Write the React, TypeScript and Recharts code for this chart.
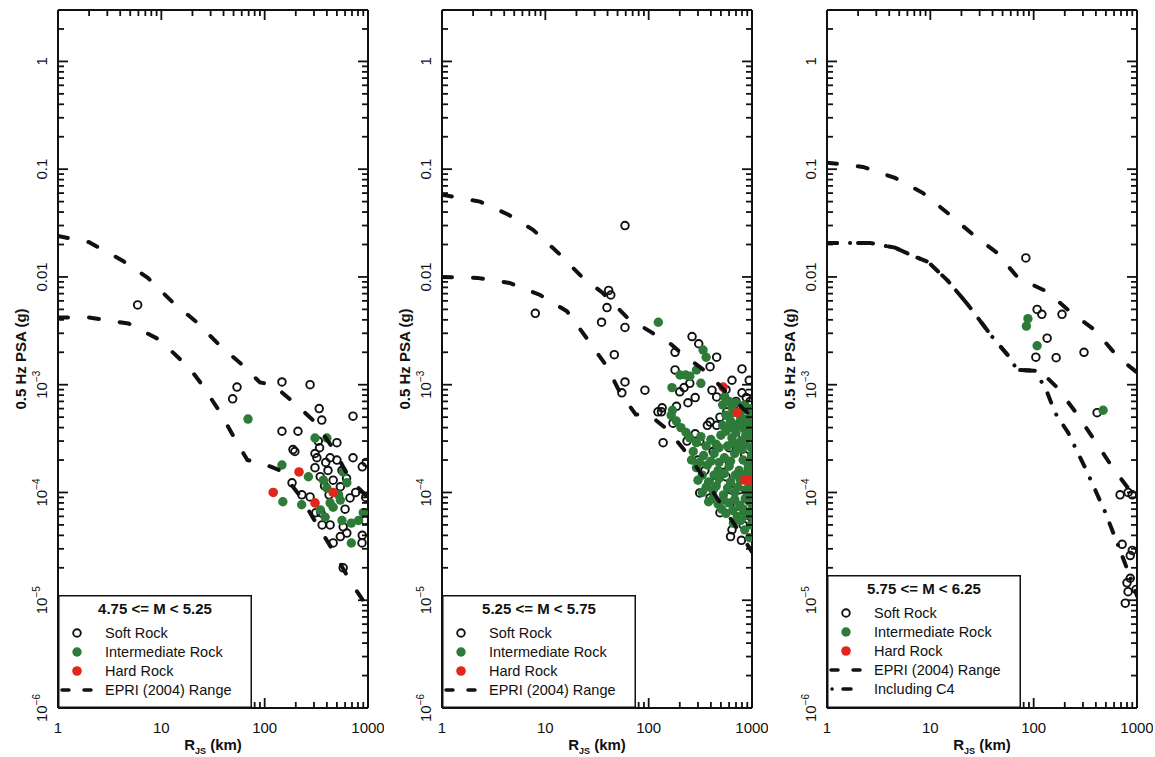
import React from 'react';
import { ScatterChart, Scatter, XAxis, YAxis, Legend } from 'recharts';

type Pt = [number, number];

const INK = '#111111';
const GREEN = '#2e7b39';
const RED = '#e3261b';
const FONT = '"Liberation Sans", Arial, Helvetica, sans-serif';

// ---------- tick labels ----------
const xDecades = [1, 10, 100, 1000];
const xDecadeLabels = ['1', '10', '100', '1000'];
const yDecades = [1e-6, 1e-5, 1e-4, 1e-3, 0.01, 0.1, 1];
const yDecadeBase = ['10', '10', '10', '10', '0.01', '0.1', '1'];
const yDecadeSup = ['\u22126', '\u22125', '\u22124', '\u22123', '', '', ''];
const minorMultipliers = [2, 3, 4, 5, 6, 7, 8, 9];
const yTopExtra = [2];

const xTicks: number[] = [];
xDecades.forEach((d, i) => {
  xTicks.push(d);
  if (i < xDecades.length - 1) minorMultipliers.forEach((m) => xTicks.push(m * d));
});
const yTicks: number[] = [];
yDecades.forEach((d, i) => {
  yTicks.push(d);
  if (i < yDecades.length - 1) minorMultipliers.forEach((m) => yTicks.push(m * d));
});
yTopExtra.forEach((v) => yTicks.push(v));

// ---------- panel 1 : 4.75 <= M < 5.25 ----------
const p1Soft: Pt[] = [
  [5.9, 5.5e-3], [54, 9.5e-4], [49, 7.4e-4], [147, 1.06e-3], [275, 1.0e-3], [337, 6.0e-4],
  [357, 4.7e-4], [716, 5.1e-4], [147, 3.7e-4], [210, 3.7e-4], [188, 2.5e-4], [196, 2.4e-4],
  [307, 2.3e-4], [500, 2.9e-4], [184, 1.23e-4], [229, 9.5e-5], [275, 9.1e-5], [313, 6.5e-5],
  [575, 4.8e-5], [624, 4.2e-5], [875, 3.4e-5], [575, 2.0e-5], [716, 2.1e-4], [880, 1.73e-4],
  [670, 8.9e-5], [880, 4.0e-5], [500, 2.0e-4], [410, 1.6e-4], [345, 1.4e-4], [460, 1.3e-4],
  [540, 1.13e-4], [360, 5.0e-5], [430, 5.0e-5], [460, 3.4e-5], [540, 3.9e-5], [320, 2.1e-4],
  [307, 1.7e-4], [430, 2.1e-4], [390, 1.9e-4], [560, 1.6e-4], [620, 1.35e-4], [380, 1.15e-4],
  [420, 9.5e-5], [600, 7.0e-5], [350, 6.5e-5], [760, 1.0e-4], [960, 1.9e-4], [950, 9.0e-5],
  [940, 5.5e-5], [330, 3.0e-4], [340, 2.6e-4],
];
const p1Inter: Pt[] = [
  [69, 4.8e-4], [147, 1.8e-4], [150, 8.2e-5], [265, 1.4e-4], [228, 7.7e-5], [307, 3.2e-4],
  [400, 3.2e-4], [575, 1.55e-4], [624, 1.23e-4], [400, 1.1e-4], [460, 7.3e-5], [385, 5.9e-5],
  [560, 5.5e-5], [690, 3.4e-5], [810, 5.5e-5], [540, 8.5e-5], [345, 6.9e-5], [690, 5.2e-5],
  [370, 1.3e-4], [520, 9.5e-5], [900, 6.5e-5], [430, 8.0e-5],
];
const p1Hard: Pt[] = [[121, 1.0e-4], [215, 1.55e-4], [307, 8.0e-5], [460, 1.0e-4]];
const p1Upper: Pt[] = [
  [1, 0.024], [2, 0.021], [4.3, 0.014], [7.4, 0.0098], [12.7, 0.0059], [22, 0.0038], [37, 0.0023],
  [62, 0.0015], [90, 0.00105], [120, 0.001], [193, 0.00068], [307, 0.00045], [468, 0.00025],
  [675, 0.00013], [1000, 0.00009],
];
const p1Lower: Pt[] = [
  [1, 0.0042], [2, 0.0042], [4.8, 0.0037], [9.7, 0.0026], [19, 0.0014], [24, 0.00104], [36, 0.00058],
  [51, 0.00032], [68, 0.0002], [90, 0.00019], [141, 0.00016], [220, 9.3e-5], [294, 5.8e-5],
  [458, 2.9e-5], [671, 1.5e-5], [1000, 8.5e-6],
];

// ---------- panel 2 : 5.25 <= M < 5.75 ----------
const p2Soft: Pt[] = [
  [59, 0.03], [8, 0.0046], [35, 0.0038], [39.5, 0.0052], [41, 0.0075], [43, 0.0068], [59, 0.0034],
  [46.5, 0.0019], [180, 0.002], [180, 0.00137], [263, 0.0028], [305, 0.0024], [455, 0.0018],
  [800, 0.0014], [59, 0.00106], [55, 0.00084], [92, 0.00089], [200, 0.00086], [220, 0.00094],
  [250, 0.00103], [393, 0.00147], [410, 0.00089], [455, 0.00077], [640, 0.0011], [800, 0.00084],
  [880, 0.00076], [240, 0.00068], [282, 0.00076], [186, 0.00063], [135, 0.00061], [123, 0.00056],
  [133, 0.00056], [172, 0.00044], [138, 0.00029], [235, 0.0003], [282, 0.00035], [312, 0.0003],
  [393, 0.00045], [455, 0.00042], [370, 0.00042], [490, 0.0005], [570, 0.00056], [660, 0.0006],
  [312, 9.9e-5], [393, 8.9e-5], [490, 6.5e-5], [640, 4.5e-5], [800, 5.9e-5], [820, 5.0e-5],
  [620, 3.9e-5], [620, 1.06e-4], [760, 1.06e-4], [880, 8.7e-5], [300, 2.0e-4], [350, 1.6e-4],
  [420, 2.4e-4], [520, 1.8e-4], [600, 2.6e-4], [700, 3.2e-4], [850, 2.2e-4], [950, 3.5e-4],
  [900, 1.5e-4], [450, 1.25e-4], [560, 1.4e-4], [720, 7.5e-5], [960, 6.0e-5], [940, 1.1e-3],
  [960, 7.0e-4], [700, 7.0e-4], [560, 9.0e-4], [790, 3.6e-5],
];
const p2Inter: Pt[] = [
  [124, 0.0038], [336, 0.0021], [360, 0.0018], [201, 0.00123], [228, 0.00123], [250, 0.0012],
  [290, 0.00137], [168, 0.00094], [320, 0.00103], [545, 0.00077],
  [520, 6.5e-4], [600, 7.0e-4], [700, 6.8e-4], [850, 6.5e-4], [950, 6.0e-4], [560, 5.2e-4],
  [650, 5.5e-4], [780, 5.0e-4], [900, 4.8e-4], [980, 4.5e-4], [520, 4.2e-4], [620, 4.0e-4],
  [720, 4.2e-4], [840, 3.9e-4], [960, 3.7e-4],
  [165, 5.2e-4], [185, 4.6e-4], [205, 4.0e-4], [230, 3.6e-4], [170, 5.8e-4],
  [250, 3.2e-4], [320, 3.3e-4], [400, 3.1e-4], [500, 3.4e-4], [640, 3.2e-4], [780, 3.0e-4], [930, 3.3e-4],
  [270, 2.4e-4], [340, 2.2e-4], [430, 2.3e-4], [540, 2.1e-4], [680, 2.3e-4], [820, 2.0e-4], [990, 2.2e-4],
  [290, 1.7e-4], [370, 1.8e-4], [470, 1.6e-4], [600, 1.75e-4], [750, 1.6e-4], [920, 1.7e-4],
  [300, 1.3e-4], [380, 1.25e-4], [480, 1.35e-4], [620, 1.25e-4], [770, 1.3e-4], [960, 1.2e-4],
  [330, 1.0e-4], [420, 1.05e-4], [530, 9.5e-5], [680, 1.0e-4], [860, 1.05e-4], [1000, 9.5e-5],
  [380, 8.2e-5], [470, 7.8e-5], [600, 8.0e-5], [760, 7.6e-5], [940, 8.2e-5],
  [560, 6.4e-5], [720, 6.0e-5], [880, 6.2e-5], [980, 5.0e-5], [850, 4.5e-5], [950, 3.8e-5],
  [450, 2.8e-4], [580, 2.7e-4], [720, 2.6e-4], [870, 2.8e-4], [360, 2.7e-4], [290, 2.9e-4],
  [260, 2.0e-4], [310, 1.9e-4], [400, 1.95e-4], [480, 1.9e-4], [620, 1.95e-4], [900, 1.9e-4],
  [330, 1.45e-4], [430, 1.45e-4], [540, 1.5e-4], [690, 1.45e-4], [850, 1.45e-4], [1000, 1.5e-4],
  [360, 1.12e-4], [450, 1.15e-4], [580, 1.1e-4], [730, 1.12e-4], [920, 1.1e-4],
  [420, 8.8e-5], [530, 8.5e-5], [680, 8.6e-5], [860, 8.8e-5],
  [510, 7.0e-5], [650, 6.8e-5], [820, 7.0e-5], [1000, 7.0e-5], [660, 5.2e-5], [780, 5.5e-5], [1000, 6.0e-5],
  [480, 2.6e-4], [650, 2.9e-4], [800, 2.5e-4], [980, 2.6e-4], [560, 3.7e-4], [700, 3.6e-4],
  [870, 3.4e-4], [1000, 3.2e-4], [620, 4.6e-4], [760, 4.5e-4], [900, 4.2e-4], [1000, 5.5e-4],
  [640, 6.2e-4], [800, 5.8e-4],
];
const p2Hard: Pt[] = [[525, 9.5e-4], [718, 5.5e-4], [850, 1.3e-4], [950, 1.3e-4]];
const p2Upper: Pt[] = [
  [1, 0.058], [2.33, 0.05], [4.35, 0.038], [7.6, 0.0274], [13.9, 0.0161], [22.6, 0.01], [36, 0.0071],
  [62, 0.0042], [110, 0.003], [135, 0.0028], [215, 0.0019], [367, 0.0013], [600, 0.0008], [1000, 0.0005],
];
const p2Lower: Pt[] = [
  [1, 0.01], [2.2, 0.0098], [4.5, 0.0088], [8.9, 0.0068], [16.2, 0.0048], [25.9, 0.0026],
  [39.5, 0.00147], [53, 0.00084], [75, 0.00053], [100, 0.00053], [154, 0.00038], [235, 0.00023],
  [336, 0.00014], [525, 7.3e-5], [767, 4.2e-5], [1000, 2.8e-5],
];

// ---------- panel 3 : 5.75 <= M < 6.25 ----------
const p3Soft: Pt[] = [
  [84, 0.015], [108, 0.005], [120, 0.0045], [188, 0.0045], [135, 0.0027], [105, 0.0018],
  [165, 0.00178], [307, 0.002], [411, 5.5e-4], [686, 9.5e-5], [820, 1.0e-4], [900, 9.5e-5],
  [718, 3.3e-5], [900, 2.9e-5], [860, 2.6e-5], [800, 1.45e-5], [980, 1.26e-5], [770, 9.4e-6],
  [820, 1.2e-5], [860, 1.6e-5],
];
const p3Inter: Pt[] = [[88, 0.0041], [85, 0.0035], [108, 0.0023], [470, 5.8e-4]];
const p3Hard: Pt[] = [];
const p3Upper: Pt[] = [
  [1, 0.115], [2.23, 0.105], [4.55, 0.083], [8.5, 0.06], [14.8, 0.039], [25.9, 0.0247], [44, 0.0168],
  [70.6, 0.0098], [135, 0.0073], [235, 0.0046], [393, 0.0032], [656, 0.0018], [1000, 0.0013],
];
const p3LowerHead: Pt[] = [
  [1, 0.0207], [2.6, 0.0207], [4.55, 0.0187], [7.1, 0.0154], [9.5, 0.0138], [14.8, 0.0092],
  [23.2, 0.0055], [39.5, 0.0028], [59, 0.00178], [69, 0.00137], [103, 0.00135],
];
const p3LowerTail: Pt[] = [
  [130, 0.0012], [169, 0.00094], [257, 0.00055], [393, 0.0003], [574, 0.000173], [917, 0.000095], [1000, 0.000085],
];
const p3C4Tail: Pt[] = [
  [132, 0.0009], [161, 0.00055], [215, 0.00036], [329, 0.000155], [491, 6.6e-5], [686, 2.9e-5],
  [955, 1.26e-5], [1000, 1.1e-5],
];

// ---------- helpers ----------
const toPts = (a: Pt[]) => a.map(([x, y]) => ({ x, y }));
const findIdx = (arr: number[], v: number) => arr.findIndex((d) => Math.abs(d - v) / d < 1e-6);

const MAJOR = 10;
const MINOR = 6;
const TICK_W = 1.8;

const BottomTick = (p: any) => {
  const v = p.payload.value;
  const i = findIdx(xDecades, v);
  const len = i >= 0 ? MAJOR : MINOR;
  return (
    <g>
      <line x1={p.x} x2={p.x} y1={p.y} y2={p.y - len} stroke={INK} strokeWidth={TICK_W} />
      {i >= 0 && (
        <text x={p.x} y={p.y + 25} textAnchor="middle" fontSize={15} fontFamily={FONT} fill={INK}>
          {xDecadeLabels[i]}
        </text>
      )}
    </g>
  );
};
const TopTick = (p: any) => {
  const v = p.payload.value;
  const len = findIdx(xDecades, v) >= 0 ? MAJOR : MINOR;
  return <line x1={p.x} x2={p.x} y1={p.y} y2={p.y + len} stroke={INK} strokeWidth={TICK_W} />;
};
const LeftTick = (p: any) => {
  const v = p.payload.value;
  const i = findIdx(yDecades, v);
  const len = i >= 0 ? MAJOR : MINOR;
  const tx = p.x - 11;
  return (
    <g>
      <line x1={p.x} x2={p.x + len} y1={p.y} y2={p.y} stroke={INK} strokeWidth={TICK_W} />
      {i >= 0 && (
        <text
          x={tx}
          y={p.y}
          transform={`rotate(-90 ${tx} ${p.y})`}
          textAnchor="middle"
          fontSize={15}
          fontFamily={FONT}
          fill={INK}
        >
          <tspan>{yDecadeBase[i]}</tspan>
          {yDecadeSup[i] && (
            <tspan dy={-7} fontSize={10}>
              {yDecadeSup[i]}
            </tspan>
          )}
        </text>
      )}
    </g>
  );
};
const RightTick = (p: any) => {
  const v = p.payload.value;
  const len = findIdx(yDecades, v) >= 0 ? MAJOR : MINOR;
  return <line x1={p.x} x2={p.x - len} y1={p.y} y2={p.y} stroke={INK} strokeWidth={TICK_W} />;
};

const XTitle = (props: any) => {
  const vb = props.viewBox || {};
  const cx = vb.x + vb.width / 2;
  const y = vb.y + 42;
  return (
    <text x={cx} y={y} textAnchor="middle" fontSize={15} fontWeight="bold" fontFamily={FONT} fill={INK}>
      <tspan>R</tspan>
      <tspan fontSize={9} dy={4}>JS</tspan>
      <tspan dy={-4}> (km)</tspan>
    </text>
  );
};
const YTitle = (props: any) => {
  const vb = props.viewBox || {};
  const x = vb.x + (vb.width || 0) - 32;
  const y = vb.y + vb.height / 2;
  return (
    <text
      x={x}
      y={y}
      transform={`rotate(-90 ${x} ${y})`}
      textAnchor="middle"
      fontSize={15}
      fontWeight="bold"
      fontFamily={FONT}
      fill={INK}
    >
      0.5 Hz PSA (g)
    </text>
  );
};

const SoftShape = (p: any) => <circle cx={p.cx} cy={p.cy} r={3.8} fill="none" stroke={INK} strokeWidth={1.9} />;
const InterShape = (p: any) => <circle cx={p.cx} cy={p.cy} r={4.7} fill={GREEN} />;
const HardShape = (p: any) => <circle cx={p.cx} cy={p.cy} r={4.8} fill={RED} />;
const NoShape = () => <g />;

const DASH = { stroke: INK, strokeWidth: 4, strokeDasharray: '10 21', strokeLinecap: 'round' as const, fill: 'none' };
const DASHDOT = { stroke: INK, strokeWidth: 4, strokeDasharray: '10 13 0.1 13', strokeLinecap: 'round' as const, fill: 'none' };

type RowKind = 'soft' | 'inter' | 'hard' | 'dash' | 'dashdot';
const legendKinds: RowKind[] = ['soft', 'inter', 'hard', 'dash'];
const legendNames = ['Soft Rock', 'Intermediate Rock', 'Hard Rock', 'EPRI (2004) Range'];
const legendKindsC4: RowKind[] = ['soft', 'inter', 'hard', 'dash', 'dashdot'];
const legendNamesC4 = ['Soft Rock', 'Intermediate Rock', 'Hard Rock', 'EPRI (2004) Range', 'Including C4'];

const LegendBox = ({ title, kinds, names, w, h }: { title: string; kinds: RowKind[]; names: string[]; w: number; h: number }) => {
  const titleY = 19;
  const first = 38;
  const step = 19;
  return (
    <svg width={w} height={h} style={{ display: 'block' }}>
      <rect x={0.75} y={0.75} width={w - 1.5} height={h - 1.5} fill="#ffffff" stroke={INK} strokeWidth={1.5} />
      <text x={w / 2} y={titleY} textAnchor="middle" fontSize={15} fontWeight="bold" fontFamily={FONT} fill={INK}>
        {title}
      </text>
      {kinds.map((k, i) => {
        const cy = first + i * step;
        let mark: React.ReactNode = null;
        if (k === 'soft') mark = <circle cx={19} cy={cy} r={3.8} fill="none" stroke={INK} strokeWidth={1.9} />;
        if (k === 'inter') mark = <circle cx={19} cy={cy} r={4.7} fill={GREEN} />;
        if (k === 'hard') mark = <circle cx={19} cy={cy} r={4.8} fill={RED} />;
        if (k === 'dash')
          mark = (
            <g stroke={INK} strokeWidth={3.5} strokeLinecap="round">
              <line x1={4} x2={11} y1={cy} y2={cy} />
              <line x1={26} x2={33} y1={cy} y2={cy} />
            </g>
          );
        if (k === 'dashdot')
          mark = (
            <g stroke={INK} strokeWidth={3.5} strokeLinecap="round">
              <line x1={5} x2={5.1} y1={cy} y2={cy} />
              <line x1={16} x2={24} y1={cy} y2={cy} />
            </g>
          );
        return (
          <g key={i}>
            {mark}
            <text x={47} y={cy + 5} fontSize={14.5} fontFamily={FONT} fill={INK}>
              {names[i]}
            </text>
          </g>
        );
      })}
    </svg>
  );
};

type PanelProps = {
  left: number;
  title: string;
  soft: Pt[];
  inter: Pt[];
  hard: Pt[];
  dashed: Pt[][];
  dashdot: Pt[][];
  kinds: RowKind[];
  names: string[];
  legendH: number;
};

const CH_W = 384;
const CH_H = 757;
// the axes take 1px each, so the plot box spans x 58..368 and y 10..708 in every chart
const MARGIN = { top: 9, right: 15, bottom: 48, left: 57 };

const Panel = ({ left, title, soft, inter, hard, dashed, dashdot, kinds, names, legendH }: PanelProps) => (
  <div style={{ position: 'absolute', left, top: 0 }}>
    <ScatterChart width={CH_W} height={CH_H} margin={MARGIN}>
      <XAxis
        xAxisId="b"
        dataKey="x"
        type="number"
        scale="log"
        domain={[1, 1000]}
        allowDataOverflow
        ticks={xTicks}
        interval={0}
        tickSize={0}
        tickMargin={0}
        tickLine={false}
        tick={BottomTick}
        height={1}
        axisLine={{ stroke: INK, strokeWidth: 2 }}
        label={XTitle}
      />
      <XAxis
        xAxisId="t"
        orientation="top"
        dataKey="x"
        type="number"
        scale="log"
        domain={[1, 1000]}
        allowDataOverflow
        ticks={xTicks}
        interval={0}
        tickSize={0}
        tickMargin={0}
        tickLine={false}
        tick={TopTick}
        height={1}
        axisLine={{ stroke: INK, strokeWidth: 2 }}
      />
      <YAxis
        yAxisId="l"
        dataKey="y"
        type="number"
        scale="log"
        domain={[1e-6, 3]}
        allowDataOverflow
        ticks={yTicks}
        interval={0}
        tickSize={0}
        tickMargin={0}
        tickLine={false}
        tick={LeftTick}
        width={1}
        axisLine={{ stroke: INK, strokeWidth: 2 }}
        label={YTitle}
      />
      <YAxis
        yAxisId="r"
        orientation="right"
        dataKey="y"
        type="number"
        scale="log"
        domain={[1e-6, 3]}
        allowDataOverflow
        ticks={yTicks}
        interval={0}
        tickSize={0}
        tickMargin={0}
        tickLine={false}
        tick={RightTick}
        width={1}
        axisLine={{ stroke: INK, strokeWidth: 2 }}
      />
      <Scatter name="Soft Rock" data={toPts(soft)} xAxisId="b" yAxisId="l" shape={SoftShape} isAnimationActive={false} />
      <Scatter name="Intermediate Rock" data={toPts(inter)} xAxisId="b" yAxisId="l" shape={InterShape} isAnimationActive={false} />
      <Scatter name="Hard Rock" data={toPts(hard)} xAxisId="b" yAxisId="l" shape={HardShape} isAnimationActive={false} />
      {dashed.map((d, i) => (
        <Scatter
          key={`d${i}`}
          name="EPRI (2004) Range"
          data={toPts(d)}
          xAxisId="b"
          yAxisId="l"
          line={DASH}
          shape={NoShape}
          legendType="none"
          isAnimationActive={false}
        />
      ))}
      {dashdot.map((d, i) => (
        <Scatter
          key={`dd${i}`}
          name="Including C4"
          data={toPts(d)}
          xAxisId="b"
          yAxisId="l"
          line={DASHDOT}
          shape={NoShape}
          legendType="none"
          isAnimationActive={false}
        />
      ))}
      <Legend
        layout="vertical"
        align="center"
        verticalAlign="middle"
        wrapperStyle={{ left: 58, top: 708 - legendH, width: 194, height: legendH, margin: 0, padding: 0 }}
        content={() => <LegendBox title={title} kinds={kinds} names={names} w={194} h={legendH} />}
      />
    </ScatterChart>
  </div>
);

export default function App() {
  return (
    <div style={{ position: 'absolute', left: 0, top: 0, width: 1155, height: 757, background: '#ffffff', overflow: 'hidden', fontFamily: FONT }}>
      <Panel
        left={0}
        title="4.75 <= M < 5.25"
        soft={p1Soft}
        inter={p1Inter}
        hard={p1Hard}
        dashed={[p1Upper, p1Lower]}
        dashdot={[]}
        kinds={legendKinds}
        names={legendNames}
        legendH={113}
      />
      <Panel
        left={384}
        title="5.25 <= M < 5.75"
        soft={p2Soft}
        inter={p2Inter}
        hard={p2Hard}
        dashed={[p2Upper, p2Lower]}
        dashdot={[]}
        kinds={legendKinds}
        names={legendNames}
        legendH={113}
      />
      <Panel
        left={769}
        title="5.75 <= M < 6.25"
        soft={p3Soft}
        inter={p3Inter}
        hard={p3Hard}
        dashed={[p3Upper, [...p3LowerHead, ...p3LowerTail]]}
        dashdot={[[...p3LowerHead, ...p3C4Tail]]}
        kinds={legendKindsC4}
        names={legendNamesC4}
        legendH={133}
      />
    </div>
  );
}
